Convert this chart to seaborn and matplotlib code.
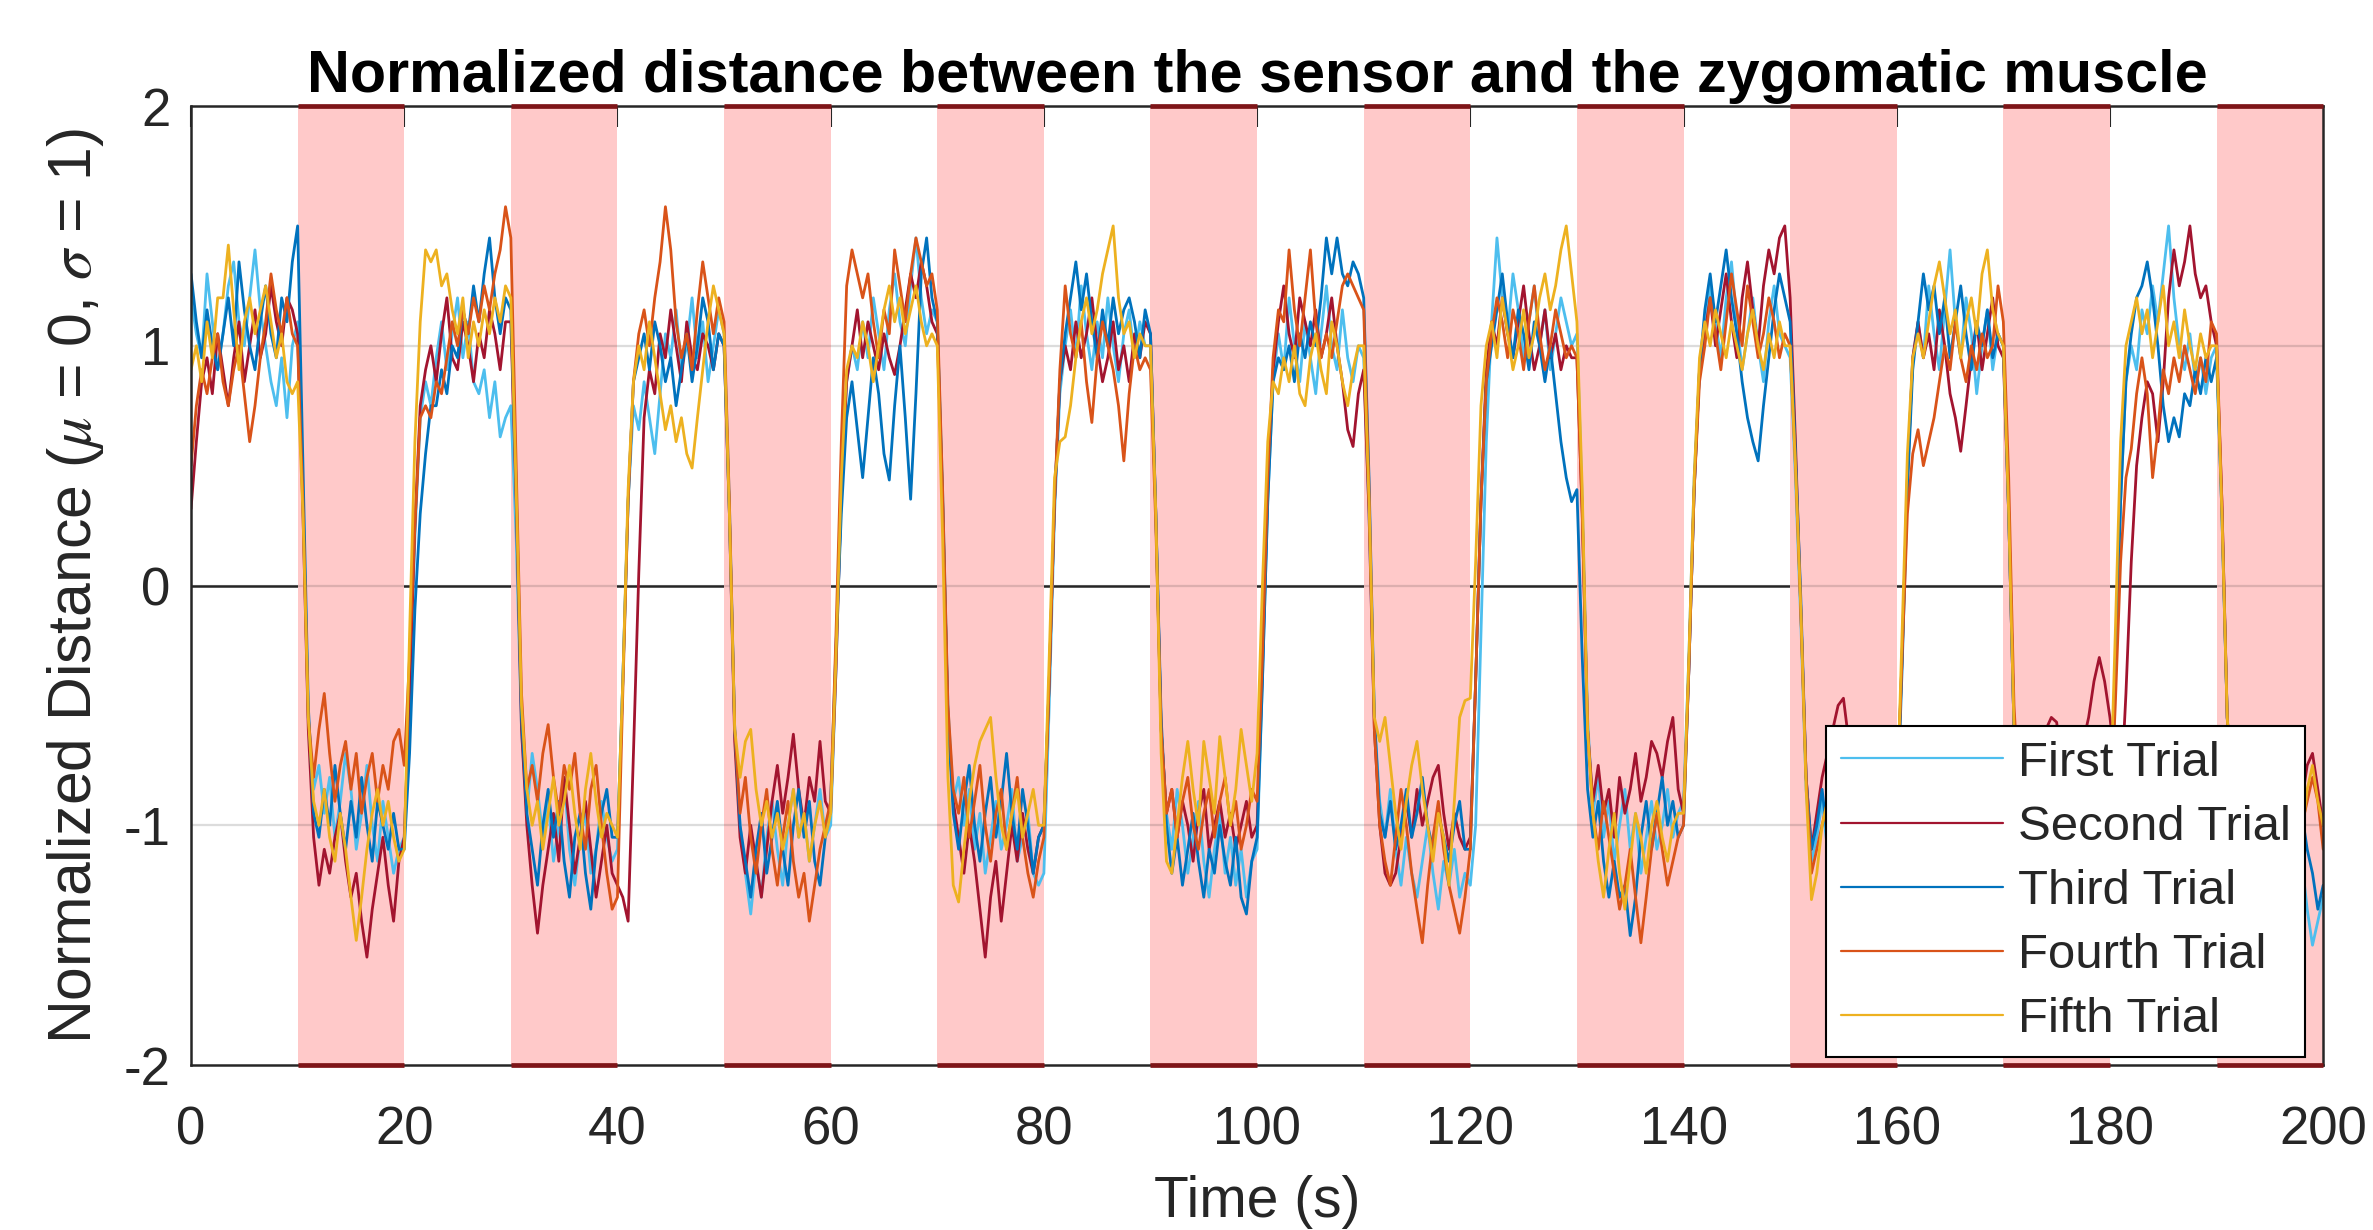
import numpy as np
import pandas as pd
import matplotlib
matplotlib.use("Agg")
import matplotlib.pyplot as plt
import seaborn as sns

# Samples every 0.5 s (one row = 10 s)
sample_step = 0.5

first_trial = [
    1.20, 1.05, 0.95, 1.30, 1.10, 0.90, 1.05, 1.25, 1.35, 1.10, 1.00, 1.20, 1.40, 1.15, 1.00, 0.85, 0.75, 0.95, 0.70, 1.00,
    1.10, 0.35, -0.55, -0.85, -0.75, -0.95, -0.80, -1.05, -0.90, -0.70, -0.85, -1.10, -0.95, -0.75, -1.00, -1.15, -0.90, -1.05, -1.20, -1.10,
    -1.05, -0.50, 0.20, 0.70, 0.85, 0.75, 0.95, 1.10, 0.90, 1.05, 1.20, 0.95, 1.10, 0.85, 0.80, 0.90, 0.70, 0.85, 0.62, 0.70,
    0.75, 0.20, -0.60, -0.95, -0.70, -0.85, -1.05, -0.90, -1.15, -1.00, -0.80, -1.10, -1.25, -1.05, -0.95, -1.20, -1.10, -0.90, -1.05, -1.15,
    -1.10, -0.40, 0.35, 0.75, 0.65, 0.85, 0.70, 0.55, 0.80, 1.05, 0.95, 1.15, 0.90, 1.00, 1.20, 0.95, 1.10, 0.85, 1.00, 1.15,
    1.05, 0.35, -0.60, -1.00, -1.20, -1.37, -1.15, -1.30, -1.05, -0.90, -1.10, -1.25, -1.00, -0.85, -1.05, -0.95, -1.15, -1.00, -0.85, -1.05,
    -1.00, -0.35, 0.40, 0.85, 1.00, 0.90, 1.10, 0.95, 1.20, 1.05, 0.90, 1.15, 1.30, 1.10, 1.00, 1.25, 1.45, 1.20, 1.05, 1.15,
    1.10, 0.40, -0.50, -0.90, -0.80, -1.00, -0.85, -1.10, -0.95, -1.20, -1.05, -0.90, -1.10, -1.00, -0.85, -1.15, -1.05, -0.95, -1.20, -1.25,
    -1.20, -0.50, 0.30, 0.80, 1.00, 1.15, 0.95, 1.25, 1.05, 0.90, 1.10, 0.95, 1.20, 1.00, 0.85, 1.05, 1.15, 0.95, 1.10, 1.00,
    1.00, 0.30, -0.60, -0.95, -1.10, -0.85, -1.00, -1.20, -1.05, -0.90, -1.15, -1.30, -1.10, -0.95, -1.20, -1.05, -1.25, -1.10, -1.30, -1.15,
    -1.10, -0.40, 0.35, 0.85, 1.05, 0.90, 1.20, 1.00, 0.85, 1.10, 0.95, 0.80, 1.05, 1.25, 1.00, 0.90, 1.15, 0.95, 0.85, 1.00,
    0.95, 0.30, -0.55, -0.90, -1.05, -0.85, -1.10, -1.25, -1.05, -1.20, -1.30, -1.15, -1.00, -1.20, -1.35, -1.15, -1.25, -1.10, -1.30, -1.20,
    -1.25, -1.00, -0.20, 0.60, 1.10, 1.45, 1.20, 1.05, 1.30, 1.15, 0.95, 1.10, 1.25, 1.00, 1.15, 0.90, 1.05, 1.20, 1.10, 1.00,
    1.05, 0.35, -0.55, -0.95, -0.80, -1.05, -0.90, -1.15, -1.00, -0.85, -1.10, -0.95, -1.20, -1.05, -0.90, -1.10, -1.00, -0.85, -1.05, -0.95,
    -0.90, -0.30, 0.45, 0.90, 1.05, 1.25, 1.10, 0.95, 1.20, 1.35, 1.10, 0.90, 1.05, 1.20, 1.00, 0.85, 1.10, 1.25, 1.05, 1.00,
    0.95, 0.45, -0.15, -0.85, -1.15, -1.05, -0.90, -1.10, -1.20, -1.00, -0.90, -1.10, -1.25, -1.05, -0.95, -1.15, -1.00, -1.20, -1.10, -0.95,
    -0.95, -0.30, 0.45, 0.95, 1.10, 0.95, 1.25, 1.05, 0.90, 1.15, 1.40, 1.10, 0.95, 1.20, 1.05, 0.80, 1.00, 1.15, 0.90, 1.05,
    1.00, 0.30, -0.60, -0.95, -1.10, -0.90, -1.05, -1.20, -1.00, -0.85, -1.10, -1.25, -1.05, -0.95, -1.15, -1.00, -1.20, -1.05, -0.90, -1.10,
    -1.05, -0.40, 0.35, 0.85, 1.00, 0.90, 1.15, 1.05, 1.25, 1.10, 1.30, 1.50, 1.20, 1.00, 0.90, 1.05, 0.85, 0.95, 0.80, 0.95,
    1.00, 0.30, -0.55, -0.90, -1.05, -0.85, -1.10, -0.95, -1.20, -1.05, -0.90, -1.15, -1.30, -1.10, -1.00, -1.25, -1.15, -1.35, -1.50, -1.40,
    -1.30,
]

second_trial = [
    0.32, 0.60, 0.85, 0.95, 0.80, 1.05, 0.90, 0.75, 0.95, 1.10, 0.85, 1.00, 1.15, 0.95, 1.05, 1.25, 1.10, 1.00, 1.20, 1.15,
    1.05, 0.30, -0.60, -1.05, -1.25, -1.10, -1.20, -1.05, -0.95, -1.15, -1.30, -1.20, -1.40, -1.55, -1.35, -1.20, -1.05, -1.25, -1.40, -1.15,
    -1.05, -0.45, 0.25, 0.75, 0.90, 1.00, 0.85, 1.05, 1.20, 0.95, 0.90, 1.10, 1.00, 0.85, 1.05, 0.95, 1.15, 1.05, 0.90, 1.10,
    1.10, 0.35, -0.60, -1.00, -1.25, -1.45, -1.25, -1.10, -0.95, -1.15, -0.80, -1.00, -1.20, -1.05, -0.90, -1.10, -1.30, -1.15, -1.00, -1.20,
    -1.25, -1.30, -1.40, -0.70, 0.05, 0.70, 0.90, 0.80, 1.05, 0.95, 1.15, 1.00, 0.85, 1.10, 0.95, 0.90, 1.05, 1.00, 0.90, 1.05,
    1.00, 0.30, -0.65, -1.05, -1.20, -1.00, -1.15, -1.30, -1.10, -0.90, -0.75, -0.95, -0.80, -0.62, -0.85, -1.00, -0.80, -0.90, -0.65, -0.90,
    -0.95, -0.35, 0.40, 0.85, 1.00, 1.15, 0.95, 1.10, 1.00, 0.90, 1.05, 0.95, 0.88, 1.00, 1.15, 1.30, 1.20, 1.35, 1.25, 1.10,
    1.05, 0.35, -0.55, -0.90, -1.05, -1.20, -1.00, -1.15, -1.35, -1.55, -1.30, -1.15, -1.40, -1.20, -1.00, -1.15, -0.95, -1.10, -1.20, -1.05,
    -1.00, -0.40, 0.35, 0.85, 1.00, 0.90, 1.10, 0.95, 1.05, 1.20, 1.00, 0.85, 0.95, 1.10, 0.90, 1.00, 0.85, 1.05, 0.95, 1.10,
    1.05, 0.30, -0.60, -0.95, -0.85, -1.05, -0.90, -1.00, -1.15, -0.95, -0.85, -1.10, -1.00, -0.90, -1.05, -0.95, -1.10, -1.00, -0.90, -1.05,
    -1.00, -0.35, 0.40, 0.90, 1.10, 1.25, 1.05, 0.95, 1.20, 1.10, 1.00, 1.15, 0.95, 1.05, 1.20, 1.00, 0.85, 0.65, 0.58, 0.80,
    0.90, 0.30, -0.60, -1.00, -1.20, -1.25, -1.20, -1.05, -0.90, -1.05, -0.85, -1.00, -0.90, -0.80, -0.75, -0.95, -1.10, -0.95, -1.05, -1.10,
    -1.05, -0.40, 0.35, 0.90, 1.10, 1.00, 1.20, 1.05, 0.95, 1.10, 1.25, 1.05, 0.90, 1.00, 1.15, 0.95, 1.05, 0.90, 1.00, 0.95,
    0.95, 0.30, -0.60, -0.90, -0.75, -0.95, -0.85, -1.05, -0.80, -0.95, -0.85, -0.70, -0.90, -0.80, -0.65, -0.70, -0.80, -0.65, -0.55, -0.85,
    -0.95, -0.35, 0.40, 0.90, 1.05, 1.20, 1.00, 1.15, 1.30, 1.10, 0.95, 1.20, 1.35, 1.15, 1.00, 1.25, 1.40, 1.30, 1.45, 1.50,
    1.20, 0.60, -0.10, -0.80, -1.10, -0.95, -0.80, -0.70, -0.60, -0.50, -0.47, -0.65, -0.75, -0.70, -0.85, -0.80, -0.70, -0.85, -0.75, -0.90,
    -0.90, -0.30, 0.45, 0.95, 1.10, 0.95, 1.05, 0.90, 1.15, 1.00, 0.80, 0.70, 0.56, 0.75, 0.95, 1.10, 0.90, 1.05, 1.20, 1.00,
    0.95, 0.30, -0.60, -0.95, -1.05, -0.90, -0.75, -0.65, -0.60, -0.55, -0.57, -0.75, -0.85, -0.80, -0.70, -0.65, -0.55, -0.40, -0.30, -0.40,
    -0.55, -0.75, -0.90, -0.45, 0.10, 0.50, 0.70, 0.85, 0.80, 0.60, 0.85, 1.20, 1.40, 1.25, 1.35, 1.50, 1.30, 1.20, 1.25, 1.10,
    1.00, 0.35, -0.55, -0.85, -1.00, -0.90, -0.80, -0.95, -1.05, -0.90, -0.80, -0.95, -1.10, -0.95, -0.85, -1.00, -0.90, -0.75, -0.70, -0.85,
    -1.00,
]

third_trial = [
    1.30, 1.10, 0.95, 1.15, 1.00, 0.90, 1.05, 1.20, 1.00, 1.35, 1.15, 1.00, 0.90, 1.10, 1.25, 1.05, 0.95, 1.20, 1.10, 1.35,
    1.50, 0.50, -0.50, -0.95, -1.05, -0.85, -1.00, -0.75, -0.95, -1.10, -0.90, -1.05, -0.80, -1.00, -1.15, -0.90, -1.00, -1.10, -0.95, -1.10,
    -1.10, -0.70, -0.10, 0.30, 0.55, 0.75, 0.75, 0.90, 0.80, 1.00, 0.95, 1.15, 1.05, 1.25, 1.10, 1.30, 1.45, 1.20, 1.05, 1.20,
    1.15, 0.40, -0.55, -0.95, -1.10, -1.25, -1.00, -0.85, -1.05, -0.90, -1.15, -1.30, -1.05, -0.95, -1.20, -1.35, -1.10, -0.95, -0.85, -1.05,
    -1.05, -0.40, 0.35, 0.85, 0.95, 1.05, 0.90, 1.10, 1.00, 0.85, 0.95, 0.75, 0.90, 1.05, 0.85, 1.00, 1.20, 1.10, 0.90, 1.05,
    1.00, 0.30, -0.60, -1.00, -1.15, -1.30, -1.10, -0.95, -1.20, -1.05, -0.90, -1.10, -1.25, -1.00, -0.85, -1.05, -0.90, -1.15, -1.25, -1.05,
    -0.90, -0.25, 0.30, 0.70, 0.85, 0.65, 0.45, 0.70, 0.95, 0.80, 0.55, 0.44, 0.75, 1.00, 0.70, 0.36, 0.80, 1.30, 1.45, 1.20,
    1.10, 0.35, -0.55, -0.95, -1.10, -0.90, -0.75, -1.00, -1.15, -0.95, -0.80, -1.05, -0.90, -0.70, -0.95, -1.10, -0.85, -1.00, -1.20, -1.05,
    -1.00, -0.40, 0.35, 0.85, 1.05, 1.20, 1.35, 1.15, 1.30, 1.10, 0.95, 1.15, 1.00, 1.20, 1.05, 1.15, 1.20, 1.10, 0.95, 1.15,
    1.05, 0.30, -0.55, -1.00, -1.20, -1.05, -1.25, -1.10, -0.95, -1.15, -1.30, -1.10, -1.20, -1.00, -1.15, -1.25, -1.05, -1.30, -1.37, -1.15,
    -1.05, -0.40, 0.35, 0.85, 0.95, 0.90, 1.00, 0.85, 1.05, 0.95, 1.10, 1.00, 1.20, 1.45, 1.30, 1.45, 1.30, 1.25, 1.35, 1.30,
    1.20, 0.45, -0.55, -0.95, -1.05, -0.90, -1.10, -1.00, -0.85, -1.05, -0.95, -0.80, -1.00, -1.10, -0.95, -1.05, -1.15, -1.00, -0.90, -1.10,
    -1.10, -0.40, 0.35, 0.85, 1.00, 1.15, 1.30, 1.10, 0.95, 1.15, 1.05, 0.90, 1.10, 1.00, 0.85, 1.00, 0.80, 0.60, 0.45, 0.35,
    0.40, -0.30, -0.85, -1.05, -0.90, -1.15, -1.30, -1.15, -1.30, -1.25, -1.46, -1.30, -1.05, -0.90, -1.10, -0.95, -0.80, -1.00, -0.90, -1.05,
    -1.00, -0.35, 0.40, 0.90, 1.15, 1.30, 1.10, 1.25, 1.40, 1.20, 1.05, 0.85, 0.70, 0.60, 0.52, 0.75, 0.95, 1.15, 1.30, 1.20,
    1.10, 0.55, -0.05, -0.80, -1.10, -1.00, -0.85, -1.05, -1.15, -0.95, -1.05, -1.20, -1.00, -0.90, -1.10, -1.25, -1.05, -0.95, -1.15, -1.05,
    -1.00, -0.35, 0.40, 0.90, 1.10, 1.30, 1.15, 1.25, 1.05, 1.20, 0.95, 1.10, 1.25, 1.05, 0.90, 1.10, 1.00, 1.15, 0.95, 1.05,
    1.00, 0.30, -0.60, -1.00, -1.15, -1.00, -0.90, -1.10, -1.25, -1.05, -0.95, -1.15, -1.00, -1.20, -1.10, -0.95, -1.05, -1.20, -1.00, -1.10,
    -1.05, -0.40, 0.35, 0.85, 1.05, 1.20, 1.25, 1.35, 1.20, 1.00, 0.75, 0.60, 0.70, 0.62, 0.80, 0.75, 0.90, 0.80, 0.95, 0.85,
    0.95, 0.30, -0.55, -0.95, -1.10, -0.95, -1.05, -1.20, -1.00, -0.90, -1.15, -1.05, -0.95, -1.10, -1.25, -1.05, -0.95, -1.10, -1.20, -1.35,
    -1.25,
]

fourth_trial = [
    0.50, 0.75, 0.90, 0.80, 0.95, 1.05, 0.85, 0.75, 0.90, 1.00, 0.80, 0.60, 0.75, 0.95, 1.10, 1.30, 1.15, 1.05, 1.20, 1.05,
    1.00, 0.35, -0.55, -0.80, -0.60, -0.45, -0.70, -0.90, -0.75, -0.65, -0.85, -0.70, -0.95, -0.80, -0.70, -0.90, -0.75, -0.85, -0.65, -0.60,
    -0.75, -0.30, 0.25, 0.70, 0.75, 0.70, 0.85, 0.80, 0.95, 1.10, 1.00, 1.15, 1.05, 1.20, 1.10, 1.25, 1.15, 1.30, 1.40, 1.58,
    1.45, 0.50, -0.45, -0.85, -0.75, -0.90, -0.70, -0.58, -0.80, -0.95, -0.75, -0.85, -0.70, -0.95, -1.10, -0.85, -0.75, -1.00, -1.20, -1.35,
    -1.30, -0.45, 0.35, 0.85, 1.05, 1.15, 1.00, 1.20, 1.35, 1.58, 1.40, 1.10, 0.95, 1.05, 0.90, 1.15, 1.35, 1.20, 1.05, 1.20,
    1.10, 0.35, -0.60, -0.95, -0.80, -1.05, -1.20, -1.00, -0.85, -1.10, -1.25, -1.05, -0.90, -1.15, -1.30, -1.20, -1.40, -1.25, -1.10, -1.00,
    -0.90, -0.20, 0.60, 1.25, 1.40, 1.30, 1.20, 1.30, 1.10, 0.95, 1.15, 1.05, 1.40, 1.25, 1.10, 1.30, 1.45, 1.35, 1.25, 1.30,
    1.15, 0.40, -0.50, -0.85, -0.95, -0.80, -1.05, -0.90, -0.75, -1.00, -1.15, -0.95, -0.85, -1.10, -0.95, -0.80, -1.05, -1.20, -1.30, -1.15,
    -1.05, -0.40, 0.35, 0.90, 1.25, 1.05, 0.95, 1.10, 0.85, 0.68, 0.95, 1.10, 1.00, 0.90, 0.75, 0.52, 0.80, 1.00, 0.90, 0.95,
    0.90, 0.25, -0.60, -0.95, -0.85, -1.05, -0.90, -0.80, -1.00, -1.10, -0.95, -0.85, -1.05, -0.90, -0.80, -1.00, -0.90, -1.10, -1.00, -0.85,
    -0.90, -0.30, 0.45, 0.95, 1.15, 1.10, 1.40, 1.15, 1.00, 1.20, 1.40, 1.10, 0.95, 1.05, 0.95, 1.10, 1.25, 1.30, 1.25, 1.20,
    1.15, 0.40, -0.60, -1.00, -1.15, -1.25, -1.05, -0.85, -1.00, -1.20, -1.35, -1.49, -1.25, -1.05, -0.90, -1.10, -1.25, -1.35, -1.45, -1.30,
    -1.10, -0.40, 0.35, 0.85, 1.05, 1.20, 1.10, 0.95, 1.15, 1.05, 0.90, 1.10, 1.25, 1.05, 0.90, 1.00, 1.15, 1.05, 0.95, 1.00,
    0.95, 0.30, -0.60, -0.95, -1.10, -0.90, -1.05, -1.20, -1.35, -1.25, -1.10, -1.30, -1.49, -1.30, -1.10, -0.95, -1.10, -1.25, -1.15, -1.05,
    -1.00, -0.35, 0.40, 0.85, 1.00, 1.20, 1.05, 0.90, 1.10, 1.30, 1.15, 1.00, 1.25, 1.10, 0.95, 1.05, 1.20, 1.10, 0.95, 1.05,
    1.00, 0.50, -0.10, -0.80, -1.20, -1.10, -1.00, -0.90, -1.05, -1.15, -1.00, -0.90, -1.10, -1.20, -1.05, -0.95, -1.15, -1.05, -0.90, -1.00,
    -0.95, -0.30, 0.30, 0.55, 0.65, 0.50, 0.60, 0.70, 0.85, 1.00, 0.90, 1.10, 0.95, 0.85, 1.00, 0.90, 1.05, 0.95, 1.00, 1.25,
    1.10, 0.45, -0.50, -0.90, -1.05, -0.95, -1.10, -1.00, -0.85, -1.05, -1.20, -1.00, -0.90, -1.10, -1.00, -0.85, -1.05, -1.15, -0.95, -1.05,
    -1.00, -0.50, 0.10, 0.45, 0.57, 0.80, 0.95, 0.80, 0.45, 0.65, 0.90, 0.80, 0.95, 0.85, 1.00, 0.90, 0.80, 0.95, 0.85, 1.10,
    1.05, 0.35, -0.55, -0.90, -1.05, -0.90, -1.10, -0.95, -0.85, -1.05, -1.20, -1.00, -0.90, -1.10, -0.95, -0.85, -1.00, -0.90, -0.80, -0.90,
    -1.10,
]

fifth_trial = [
    0.90, 1.00, 0.85, 1.10, 0.95, 1.20, 1.20, 1.42, 1.15, 0.90, 1.10, 1.20, 1.05, 1.15, 1.25, 1.10, 0.95, 1.05, 0.85, 0.80,
    0.85, 0.30, -0.55, -0.90, -1.00, -0.85, -1.05, -1.15, -0.95, -1.10, -1.30, -1.48, -1.30, -1.10, -0.95, -0.85, -1.00, -0.90, -1.05, -1.15,
    -1.10, -0.20, 0.60, 1.10, 1.40, 1.35, 1.40, 1.25, 1.30, 1.15, 1.05, 1.20, 0.95, 1.10, 1.00, 1.15, 1.05, 1.20, 1.10, 1.25,
    1.20, 0.40, -0.50, -0.85, -1.00, -0.90, -1.10, -0.95, -0.80, -1.00, -0.90, -0.75, -0.95, -1.10, -0.85, -0.70, -0.90, -1.05, -0.95, -1.00,
    -1.05, -0.40, 0.40, 0.85, 1.00, 0.90, 1.10, 0.95, 0.80, 0.65, 0.75, 0.60, 0.70, 0.55, 0.49, 0.70, 0.90, 1.10, 1.25, 1.15,
    1.05, 0.30, -0.60, -0.80, -0.65, -0.60, -0.85, -1.00, -0.90, -1.05, -0.95, -1.10, -1.00, -0.85, -1.05, -0.95, -1.15, -1.00, -0.90, -1.05,
    -0.95, -0.30, 0.45, 0.90, 1.00, 0.95, 1.10, 1.00, 0.85, 1.00, 1.15, 1.25, 1.10, 1.20, 1.05, 1.15, 1.25, 1.10, 1.00, 1.05,
    1.00, 0.20, -0.80, -1.25, -1.32, -1.10, -0.90, -0.75, -0.65, -0.60, -0.55, -0.80, -1.00, -1.10, -0.95, -0.85, -1.05, -0.95, -0.85, -1.00,
    -1.00, -0.30, 0.45, 0.60, 0.62, 0.75, 0.95, 1.10, 1.20, 1.05, 1.15, 1.30, 1.40, 1.50, 1.20, 1.05, 1.10, 0.95, 1.05, 1.00,
    1.00, 0.30, -0.70, -1.15, -1.20, -1.00, -0.80, -0.65, -0.85, -1.00, -0.65, -0.80, -0.95, -0.63, -0.80, -1.00, -0.85, -0.60, -0.75, -0.90,
    -0.70, 0.00, 0.60, 0.85, 0.80, 0.95, 0.85, 1.00, 0.80, 0.75, 0.95, 1.05, 0.90, 0.80, 1.10, 1.00, 0.85, 0.75, 0.90, 1.00,
    1.00, 0.35, -0.55, -0.65, -0.55, -0.75, -0.95, -1.10, -0.90, -0.75, -0.65, -0.85, -1.00, -1.15, -0.95, -1.05, -1.25, -0.90, -0.55, -0.48,
    -0.47, 0.10, 0.75, 1.00, 1.10, 0.95, 1.20, 1.05, 0.90, 1.00, 1.15, 0.95, 1.05, 1.20, 1.30, 1.15, 1.25, 1.40, 1.50, 1.30,
    1.10, 0.40, -0.60, -0.95, -1.15, -1.30, -1.10, -0.95, -1.20, -1.35, -1.15, -0.95, -1.05, -1.20, -1.00, -0.90, -1.05, -1.15, -1.00, -0.95,
    -0.95, -0.30, 0.45, 0.95, 1.10, 1.00, 1.15, 1.05, 0.95, 1.10, 1.00, 0.90, 1.05, 1.15, 1.00, 0.90, 1.05, 0.95, 1.10, 1.00,
    1.00, 0.50, -0.10, -0.85, -1.31, -1.20, -1.00, -0.90, -1.05, -1.15, -0.95, -1.05, -1.20, -1.00, -0.90, -1.10, -1.00, -0.85, -1.05, -1.00,
    -0.95, -0.20, 0.55, 0.95, 1.05, 0.95, 1.10, 1.25, 1.35, 1.20, 1.05, 1.15, 0.95, 1.10, 1.20, 1.05, 1.30, 1.40, 1.15, 1.05,
    1.00, 0.30, -0.60, -0.95, -1.05, -0.90, -1.00, -1.15, -0.95, -1.05, -1.20, -1.00, -0.90, -1.05, -1.15, -0.95, -1.05, -1.10, -1.00, -0.95,
    -0.95, -0.20, 0.60, 1.00, 1.10, 1.20, 1.05, 1.15, 0.95, 1.10, 1.25, 1.00, 1.10, 0.95, 1.15, 1.00, 0.90, 1.05, 0.95, 1.00,
    1.00, 0.30, -0.55, -0.90, -1.00, -0.85, -1.05, -1.20, -1.00, -0.90, -1.10, -0.95, -1.05, -1.20, -1.00, -0.90, -1.05, -0.85, -0.75, -0.90,
    -1.00,
]

trial_names = ["First Trial", "Second Trial", "Third Trial", "Fourth Trial", "Fifth Trial"]
trial_colors = ["#4DBEEE", "#A2142F", "#0072BD", "#D95319", "#EDB120"]

# stimulus periods (shaded), start times in seconds
stim_starts = [10, 30, 50, 70, 90, 110, 130, 150, 170, 190]
stim_length = 10

x_ticks = [0, 20, 40, 60, 80, 100, 120, 140, 160, 180, 200]
y_ticks = [-2, -1, 0, 1, 2]

# long-form table for seaborn
frames = []
for name, vals in zip(trial_names, [first_trial, second_trial, third_trial, fourth_trial, fifth_trial]):
    frames.append(pd.DataFrame({
        "Time": np.arange(len(vals)) * sample_step,
        "Distance": vals,
        "Trial": name,
    }))
df = pd.concat(frames, ignore_index=True)

sns.set_theme(style="white")
plt.rcParams["font.family"] = ["Liberation Sans", "DejaVu Sans"]
plt.rcParams["mathtext.fontset"] = "stix"
plt.rcParams["axes.unicode_minus"] = False

fig = plt.figure(figsize=(23.73, 12.30), dpi=100)
ax = fig.add_axes([0.0805, 0.1341, 0.8985, 0.7797])

dark = "#262626"

# black zero line sits under the shading, light grid on top of it
ax.axhline(0, color=dark, lw=1.8, zorder=0.5)
for s in stim_starts:
    ax.axvspan(s, s + stim_length, facecolor="#FFC9C9", edgecolor="none", zorder=1)
    ax.plot([s, s + stim_length], [2, 2], color="#7E1518", lw=3.4, zorder=3,
            clip_on=False, solid_capstyle="butt")
    ax.plot([s, s + stim_length], [-2, -2], color="#7E1518", lw=3.4, zorder=3,
            clip_on=False, solid_capstyle="butt")
for yv in [-1, 0, 1]:
    ax.axhline(yv, color=(0.15, 0.15, 0.15, 0.16), lw=1.6, zorder=1.5)

sns.lineplot(data=df, x="Time", y="Distance", hue="Trial", hue_order=trial_names,
             palette=dict(zip(trial_names, trial_colors)), linewidth=2.0,
             estimator=None, sort=False, ax=ax, zorder=2)

ax.set_xlim(0, 200)
ax.set_ylim(-2, 2)
ax.set_xticks(x_ticks)
ax.set_yticks(y_ticks)
ax.tick_params(axis="both", direction="in", length=15, width=1.5, color=dark,
               labelcolor=dark, top=True, right=True, labelsize=38)
ax.tick_params(axis="x", pad=29)
ax.tick_params(axis="y", pad=15)
for sp in ax.spines.values():
    sp.set_color(dark)
    sp.set_linewidth(1.8)
    sp.set_zorder(2.6)

ax.set_title("Normalized distance between the sensor and the zygomatic muscle",
             fontsize=42.7, fontweight="bold", color="black", pad=10)
ax.set_xlabel("Time (s)", fontsize=41, color=dark)
ax.set_ylabel(r"Normalized Distance ($\mu$ = 0, $\sigma$ = 1)", fontsize=43.7, color=dark)
ax.xaxis.set_label_coords(0.5, -0.115)
ax.yaxis.set_label_coords(-0.040, 0.5)

handles, labels = ax.get_legend_handles_labels()
leg = ax.legend(handles, labels, loc="lower right", bbox_to_anchor=(0.9916, 0.0083),
                bbox_transform=ax.transAxes, borderaxespad=0, fontsize=35.4,
                frameon=True, fancybox=False, edgecolor="black", facecolor="white",
                framealpha=1, handlelength=3.3, handletextpad=0.3, labelspacing=0.39,
                borderpad=0.3)
leg.get_frame().set_linewidth(1.5)
leg.set_zorder(5)
for line in leg.get_lines():
    line.set_linewidth(1.6)

fig.savefig("out.png", dpi=100)
